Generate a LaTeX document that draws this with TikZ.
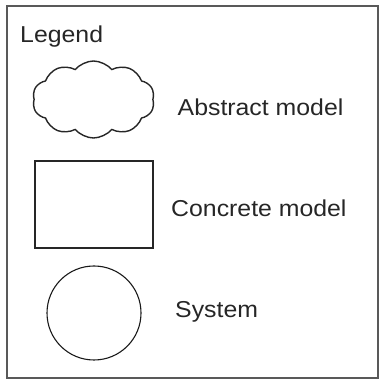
\documentclass[tikz,border=0pt]{standalone}
\usepackage{fontspec}
\setmainfont{Liberation Sans}
\usetikzlibrary{shapes.symbols}
\begin{document}
\begin{tikzpicture}[x=1pt,y=1pt,
  label text/.style={anchor=base west, inner sep=0pt, text=black!85,
    font=\fontsize{23}{26}\selectfont},
  shape line/.style={draw=black!85, line width=1.4pt, fill=white}]
  \useasboundingbox (0,0) rectangle (379,380);
  % legend frame
  \node[draw=black!65, line width=2pt, minimum width=371pt, minimum height=372pt,
        inner sep=0pt, anchor=north west] (frame) at (6,375) {};
  \node[label text] (title) at (20,337) {\scalebox{1.08}[1]{Legend}};
  % abstract model
  \node[cloud, cloud puffs=10, cloud puff arc=100, aspect=1.6, shape line,
        shape border rotate=18,
        inner sep=0pt, minimum width=122pt, minimum height=77pt] (cloud) at (93.5,280.5) {};
  \node[label text] (abstract) at (177.5,264.3) {\scalebox{1.08}[1]{Abstract model}};
  % concrete model
  \node[rectangle, shape line, minimum width=118pt, minimum height=87pt,
        inner sep=0pt] (box) at (94,175.5) {};
  \node[label text] (concrete) at (171,163.3) {\scalebox{1.08}[1]{Concrete model}};
  % system
  \node[circle, shape line, draw=black!90, line width=1.1pt, minimum size=94pt,
        inner sep=0pt] (sys) at (94,67) {};
  \node[label text] (system) at (175,62) {\scalebox{1.08}[1]{System}};
\end{tikzpicture}
\end{document}
